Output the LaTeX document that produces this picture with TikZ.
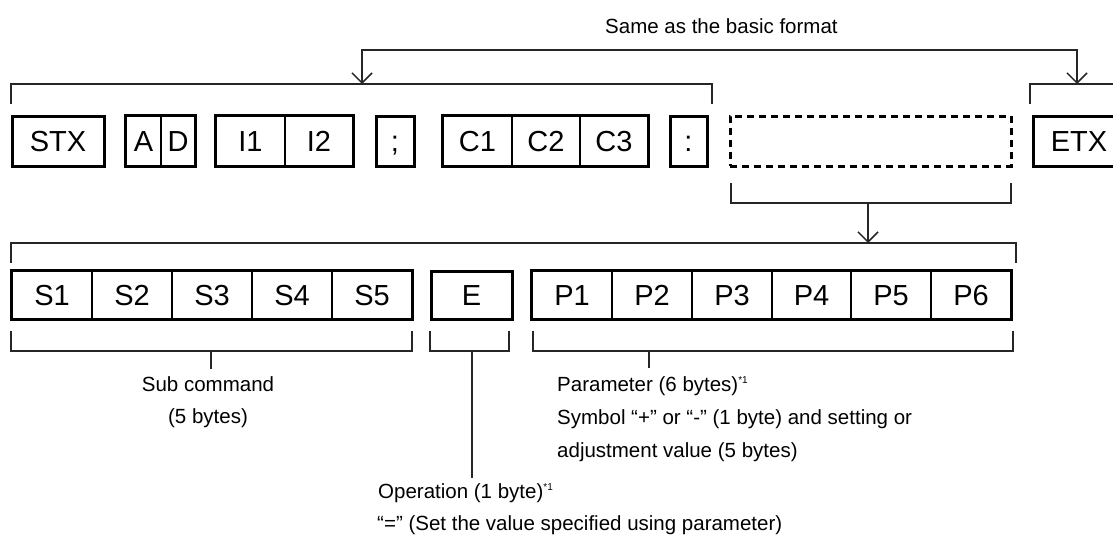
\documentclass[tikz,border=0pt]{standalone}
\usepackage{fontspec}
\setmainfont{Liberation Sans}
\usetikzlibrary{arrows.meta,fit}
\newcommand{\boxfont}{\fontsize{29pt}{32pt}\selectfont}
\newcommand{\txtfont}{\fontsize{20.5pt}{24pt}\selectfont}
\newcommand{\supone}{\raisebox{8pt}{\fontsize{10pt}{10pt}\selectfont *1}}
\begin{document}
\begin{tikzpicture}[x=1pt,y=-1pt,
  cell/.style={draw,line width=1.7pt,inner sep=0pt,font=\boxfont,text height=21pt,text depth=0pt},
  boxs/.style={cell,line width=3pt},
  rowa/.style={minimum height=50pt},
  rowb/.style={minimum height=48pt},
  grp/.style={draw,line width=3pt,inner sep=0pt,fit=#1},
  dashbox/.style={draw,line width=3pt,dash pattern=on 7pt off 5pt,inner sep=0pt,minimum height=50pt},
  brk/.style={draw=black!85,line width=1.5pt},
  tip/.style={-{Straight Barb[length=10pt,width=20pt]}},
  lbl/.style={inner sep=0pt,font=\txtfont}]
\useasboundingbox (0,0) rectangle (1113,536);
\clip (0,0) rectangle (1113,536);

% ---- row 1
\node[boxs,rowa,minimum width=92pt] (stx) at (58,141) {STX};
\node[cell,rowa,minimum width=35pt] (ca) at (143.5,141) {A};
\node[cell,rowa,minimum width=34pt] (cd) at (178,141) {D};
\node[grp={(ca)(cd)}] (gad) {};
\node[cell,rowa,minimum width=69pt] (ci1) at (250.5,141) {I1};
\node[cell,rowa,minimum width=68pt] (ci2) at (319,141) {I2};
\node[grp={(ci1)(ci2)}] (gi) {};
\node[boxs,rowa,minimum width=38pt] (semi) at (395,141) {;};
\node[cell,rowa,minimum width=69pt] (cc1) at (477.5,141) {C1};
\node[cell,rowa,minimum width=68pt] (cc2) at (546,141) {C2};
\node[cell,rowa,minimum width=68pt] (cc3) at (614,141) {C3};
\node[grp={(cc1)(cc3)}] (gc) {};
\node[boxs,rowa,minimum width=37pt] (colon) at (688.5,141) {:};
\node[dashbox,minimum width=281pt] (dsh) at (870.5,141) {};
\node[boxs,rowa,minimum width=92pt] (etx) at (1079,141) {ETX};

% ---- row 2
\node[cell,rowb,minimum width=80pt] (s1) at (52,295) {S1};
\node[cell,rowb,minimum width=80pt] (s2) at (132,295) {S2};
\node[cell,rowb,minimum width=80pt] (s3) at (212,295) {S3};
\node[cell,rowb,minimum width=80pt] (s4) at (292,295) {S4};
\node[cell,rowb,minimum width=80pt] (s5) at (372,295) {S5};
\node[grp={(s1)(s5)}] (gs) {};
\node[boxs,rowb,minimum width=81pt] (ce) at (471.5,295) {E};
\node[cell,rowb,minimum width=80pt] (p1) at (572,295) {P1};
\node[cell,rowb,minimum width=80pt] (p2) at (652,295) {P2};
\node[cell,rowb,minimum width=80pt] (p3) at (732,295) {P3};
\node[cell,rowb,minimum width=79pt] (p4) at (811.5,295) {P4};
\node[cell,rowb,minimum width=80pt] (p5) at (891,295) {P5};
\node[cell,rowb,minimum width=80pt] (p6) at (971,295) {P6};
\node[grp={(p1)(p6)}] (gp) {};

% ---- bracket coordinates
\coordinate (tb1) at (11,104);  \coordinate (tb2) at (11,84);
\coordinate (tb3) at (712,84);  \coordinate (tb4) at (712,104);
\coordinate (eb1) at (1030,104); \coordinate (eb2) at (1030,84);
\coordinate (eb3) at (1125,84);
\coordinate (ta1) at (362,84);  \coordinate (ta2) at (362,50);
\coordinate (ta3) at (1077,50); \coordinate (ta4) at (1077,84);
\coordinate (db1) at (731,183); \coordinate (db2) at (731,203);
\coordinate (db3) at (1011,203); \coordinate (db4) at (1011,183);
\coordinate (dbs) at (868,203); \coordinate (dbe) at (868,243);
\coordinate (sb1) at (11,263);  \coordinate (sb2) at (11,243);
\coordinate (sb3) at (1016,243); \coordinate (sb4) at (1016,263);
\coordinate (bs1) at (11,331);  \coordinate (bs2) at (11,351);
\coordinate (bs3) at (412,351); \coordinate (bs4) at (412,331);
\coordinate (bss) at (211,351); \coordinate (bse) at (211,369);
\coordinate (be1) at (430,331); \coordinate (be2) at (430,351);
\coordinate (be3) at (509,351); \coordinate (be4) at (509,331);
\coordinate (bes) at (472,351); \coordinate (bee) at (472,478);
\coordinate (bp1) at (533,331); \coordinate (bp2) at (533,351);
\coordinate (bp3) at (1013,351); \coordinate (bp4) at (1013,331);
\coordinate (bps) at (649,351); \coordinate (bpe) at (649,368);

% ---- brackets and connectors
\draw[brk] (tb1) -- (tb2) -- (tb3) -- (tb4);
\draw[brk] (eb1) -- (eb2) -- (eb3);
\draw[brk,{Straight Barb[length=10pt,width=20pt]}-{Straight Barb[length=10pt,width=20pt]}] (ta1) -- (ta2) -- (ta3) -- (ta4);
\draw[brk] (db1) -- (db2) -- (db3) -- (db4);
\draw[brk,tip] (dbs) -- (dbe);
\draw[brk] (sb1) -- (sb2) -- (sb3) -- (sb4);
\draw[brk] (bs1) -- (bs2) -- (bs3) -- (bs4);
\draw[brk] (bss) -- (bse);
\draw[brk] (be1) -- (be2) -- (be3) -- (be4);
\draw[brk] (bes) -- (bee);
\draw[brk] (bp1) -- (bp2) -- (bp3) -- (bp4);
\draw[brk] (bps) -- (bpe);

% ---- texts
\node[lbl,anchor=base west] (tsame) at (605,33) {Same as the basic format};
\node[lbl,anchor=base] (tsub) at (208,391) {Sub command};
\node[lbl,anchor=base] (tsub2) at (208,423) {(5 bytes)};
\node[lbl,anchor=base west] (tpar) at (557,391) {Parameter (6 bytes)\supone};
\node[lbl,anchor=base west] (tsym) at (557,424) {Symbol “+” or “-” (1 byte) and setting or};
\node[lbl,anchor=base west] (tadj) at (557,457) {adjustment value (5 bytes)};
\node[lbl,anchor=base west] (top) at (378,498) {Operation (1 byte)\supone};
\node[lbl,anchor=base west] (teq) at (377,530) {“=” (Set the value specified using parameter)};
\end{tikzpicture}
\end{document}
